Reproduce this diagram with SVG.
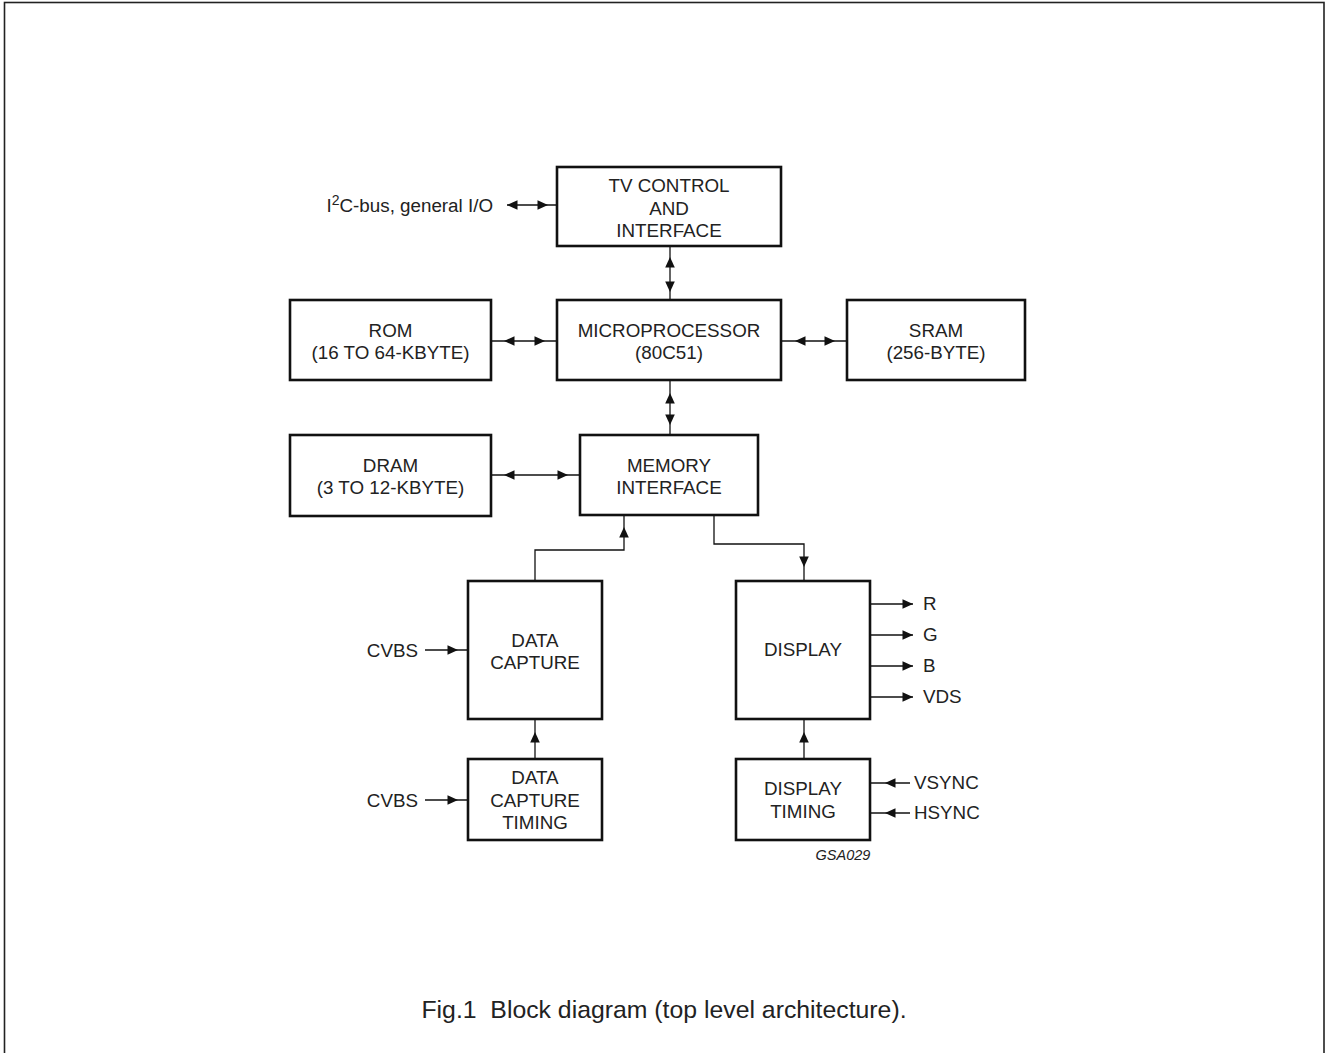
<svg xmlns="http://www.w3.org/2000/svg" xmlns:xlink="http://www.w3.org/1999/xlink" width="1326" height="1053" viewBox="0 0 1326 1053">
<style>
.frame{fill:none;stroke:#222;stroke-width:1.6}
.box{fill:#fff;stroke:#111;stroke-width:2.6}
.ln{fill:none;stroke:#111;stroke-width:1.3}
.ah{fill:#111}
text{font-family:"Liberation Sans",Arial,sans-serif;fill:#222}
.lb{font-size:18.8px;text-anchor:middle}
.io{font-size:18.8px}
.end{text-anchor:end}
.cap{font-size:24.8px;text-anchor:middle}
.id{font-size:14.5px;font-style:italic;text-anchor:middle}
</style>
<defs>
<path id="ah" class="ah" d="M0,0 L-10.5,-4.8 L-10.5,4.8 Z"/>
</defs>
<rect width="1326" height="1053" fill="#fff"/>
<rect class="frame" x="4.5" y="2.5" width="1319.5" height="1060"/>

<g id="connectors">
<path class="ln" d="M507,205 H557"/>
<path class="ln" d="M670,246 V300"/>
<path class="ln" d="M491,341 H557"/>
<path class="ln" d="M781,341 H847"/>
<path class="ln" d="M670,380 V435"/>
<path class="ln" d="M491,475 H580"/>
<path class="ln" d="M535,581 V550 H624 V515"/>
<path class="ln" d="M714,515 V544 H804 V581"/>
<path class="ln" d="M425,650 H468"/>
<path class="ln" d="M425,800 H468"/>
<path class="ln" d="M535,759 V719"/>
<path class="ln" d="M804,759 V719"/>
<path class="ln" d="M870,604 H913"/>
<path class="ln" d="M870,635 H913"/>
<path class="ln" d="M870,666 H913"/>
<path class="ln" d="M870,697 H913"/>
<path class="ln" d="M870,783 H910"/>
<path class="ln" d="M870,813 H910"/>
<use xlink:href="#ah" href="#ah" transform="translate(507,205) rotate(180)"/>
<use xlink:href="#ah" href="#ah" transform="translate(548,205)"/>
<use xlink:href="#ah" href="#ah" transform="translate(670,257) rotate(-90)"/>
<use xlink:href="#ah" href="#ah" transform="translate(670,292) rotate(90)"/>
<use xlink:href="#ah" href="#ah" transform="translate(504,341) rotate(180)"/>
<use xlink:href="#ah" href="#ah" transform="translate(545,341)"/>
<use xlink:href="#ah" href="#ah" transform="translate(795,341) rotate(180)"/>
<use xlink:href="#ah" href="#ah" transform="translate(835,341)"/>
<use xlink:href="#ah" href="#ah" transform="translate(670,393) rotate(-90)"/>
<use xlink:href="#ah" href="#ah" transform="translate(670,425) rotate(90)"/>
<use xlink:href="#ah" href="#ah" transform="translate(504,475) rotate(180)"/>
<use xlink:href="#ah" href="#ah" transform="translate(568,475)"/>
<use xlink:href="#ah" href="#ah" transform="translate(624,527) rotate(-90)"/>
<use xlink:href="#ah" href="#ah" transform="translate(804,567) rotate(90)"/>
<use xlink:href="#ah" href="#ah" transform="translate(458,650)"/>
<use xlink:href="#ah" href="#ah" transform="translate(458,800)"/>
<use xlink:href="#ah" href="#ah" transform="translate(535,732) rotate(-90)"/>
<use xlink:href="#ah" href="#ah" transform="translate(804,732) rotate(-90)"/>
<use xlink:href="#ah" href="#ah" transform="translate(913,604)"/>
<use xlink:href="#ah" href="#ah" transform="translate(913,635)"/>
<use xlink:href="#ah" href="#ah" transform="translate(913,666)"/>
<use xlink:href="#ah" href="#ah" transform="translate(913,697)"/>
<use xlink:href="#ah" href="#ah" transform="translate(885,783) rotate(180)"/>
<use xlink:href="#ah" href="#ah" transform="translate(885,813) rotate(180)"/>
</g>

<g id="tv">
<rect class="box" x="557" y="167" width="224" height="79"/>
<text class="lb" x="669" y="192">TV CONTROL</text>
<text class="lb" x="669" y="215">AND</text>
<text class="lb" x="669" y="237">INTERFACE</text>
</g>
<g id="rom">
<rect class="box" x="290" y="300" width="201" height="80"/>
<text class="lb" x="390.5" y="337">ROM</text>
<text class="lb" x="390.5" y="359">(16 TO 64-KBYTE)</text>
</g>
<g id="micro">
<rect class="box" x="557" y="300" width="224" height="80"/>
<text class="lb" x="669" y="337">MICROPROCESSOR</text>
<text class="lb" x="669" y="359">(80C51)</text>
</g>
<g id="sram">
<rect class="box" x="847" y="300" width="178" height="80"/>
<text class="lb" x="936" y="337">SRAM</text>
<text class="lb" x="936" y="359">(256-BYTE)</text>
</g>
<g id="dram">
<rect class="box" x="290" y="435" width="201" height="81"/>
<text class="lb" x="390.5" y="472">DRAM</text>
<text class="lb" x="390.5" y="494">(3 TO 12-KBYTE)</text>
</g>
<g id="memory">
<rect class="box" x="580" y="435" width="178" height="80"/>
<text class="lb" x="669" y="472">MEMORY</text>
<text class="lb" x="669" y="494">INTERFACE</text>
</g>
<g id="datacapture">
<rect class="box" x="468" y="581" width="134" height="138"/>
<text class="lb" x="535" y="647">DATA</text>
<text class="lb" x="535" y="669">CAPTURE</text>
</g>
<g id="datacapturetiming">
<rect class="box" x="468" y="759" width="134" height="81"/>
<text class="lb" x="535" y="784">DATA</text>
<text class="lb" x="535" y="807">CAPTURE</text>
<text class="lb" x="535" y="829">TIMING</text>
</g>
<g id="display">
<rect class="box" x="736" y="581" width="134" height="138"/>
<text class="lb" x="803" y="656">DISPLAY</text>
</g>
<g id="displaytiming">
<rect class="box" x="736" y="759" width="134" height="81"/>
<text class="lb" x="803" y="795">DISPLAY</text>
<text class="lb" x="803" y="818">TIMING</text>
</g>

<g id="labels">
<text class="io end" x="493" y="212">I<tspan font-size="14" dy="-7">2</tspan><tspan dy="7">C-bus, general I/O</tspan></text>
<text class="io end" x="418" y="657">CVBS</text>
<text class="io end" x="418" y="807">CVBS</text>
<text class="io" x="923" y="610">R</text>
<text class="io" x="923" y="641">G</text>
<text class="io" x="923" y="672">B</text>
<text class="io" x="923" y="703">VDS</text>
<text class="io" x="914" y="789">VSYNC</text>
<text class="io" x="914" y="819">HSYNC</text>
<text class="id" x="843" y="860">GSA029</text>
<text class="cap" x="664" y="1018">Fig.1&#160; Block diagram (top level architecture).</text>
</g>
</svg>
